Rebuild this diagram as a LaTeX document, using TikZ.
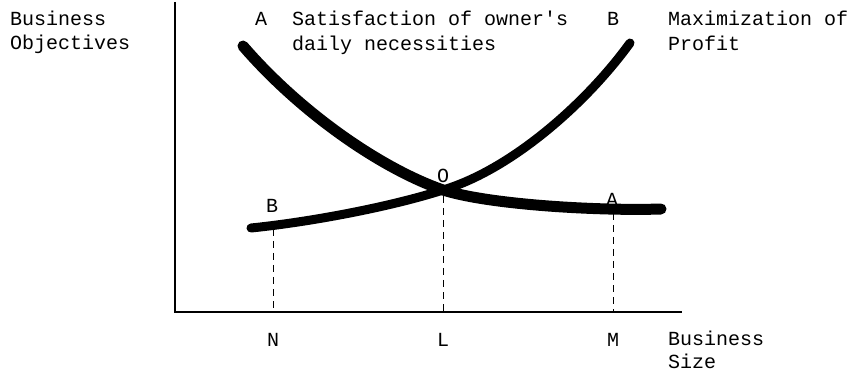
\documentclass[tikz,border=0pt]{standalone}
\usepackage{fontspec}
\setmainfont{Liberation Mono}
\begin{document}
\begin{tikzpicture}[x=1pt,y=-1pt,
  txt/.style={inner sep=0pt,anchor=base west,font=\fontsize{20}{24}\selectfont},
  ctxt/.style={inner sep=0pt,anchor=base,font=\fontsize{20}{24}\selectfont},
  axisline/.style={line width=1.6pt,black},
  curveA/.style={line width=11pt,black,line cap=round,line join=round},
  curveB/.style={line width=9pt,black,line cap=round,line join=round},
  guide/.style={line width=1pt,black,dash pattern=on 7pt off 5pt}]
\useasboundingbox (0,0) rectangle (849,374);
% axes
\coordinate (ytop) at (175,2);
\coordinate (orig) at (175,312);
\coordinate (xend) at (682,312);
\draw[axisline] (ytop) -- (orig) -- (xend);
% key points
\coordinate (aStart) at (243,46);
\coordinate (aEnd) at (661,209);
\coordinate (bStart) at (251,228);
\coordinate (bEnd) at (630,43);
\coordinate (cross) at (443,190);
% curve A (decreasing)
\draw[curveA] (aStart) .. controls (300,112) and (380,168) .. (cross)
  .. controls (490,205) and (600,211) .. (aEnd);
% curve B (increasing)
\draw[curveB] (bStart) .. controls (310,222) and (390,207) .. (cross)
  .. controls (510,170) and (585,105) .. (bEnd);
% guide coordinates
\coordinate (n1) at (273,229);
\coordinate (n0) at (273,312);
\coordinate (l1) at (443,196);
\coordinate (l0) at (443,312);
\coordinate (m1) at (613,213);
\coordinate (m0) at (613,312);
\draw[guide] (n1) -- (n0);
\draw[guide] (l1) -- (l0);
\draw[guide] (m1) -- (m0);
% texts
\node[txt] (yl1) at (10,26) {Business};
\node[txt] (yl2) at (10,50) {Objectives};
\node[txt] (aTop) at (255,26) {A};
\node[txt] (sat1) at (292,26) {Satisfaction of owner\textquotesingle s};
\node[txt] (sat2) at (292,51) {daily necessities};
\node[txt] (bTop) at (607,26) {B};
\node[txt] (max1) at (668,26) {Maximization of};
\node[txt] (max2) at (668,51) {Profit};
\node[ctxt] (bLow) at (272,213) {B};
\node[ctxt] (oLab) at (443,183) {O};
\node[ctxt] (aLow) at (612,207) {A};
\node[ctxt] (nLab) at (273,346) {N};
\node[ctxt] (lLab) at (443,346) {L};
\node[ctxt] (mLab) at (613,346) {M};
\node[txt] (xl1) at (668,345) {Business};
\node[txt] (xl2) at (668,368) {Size};
\end{tikzpicture}
\end{document}
